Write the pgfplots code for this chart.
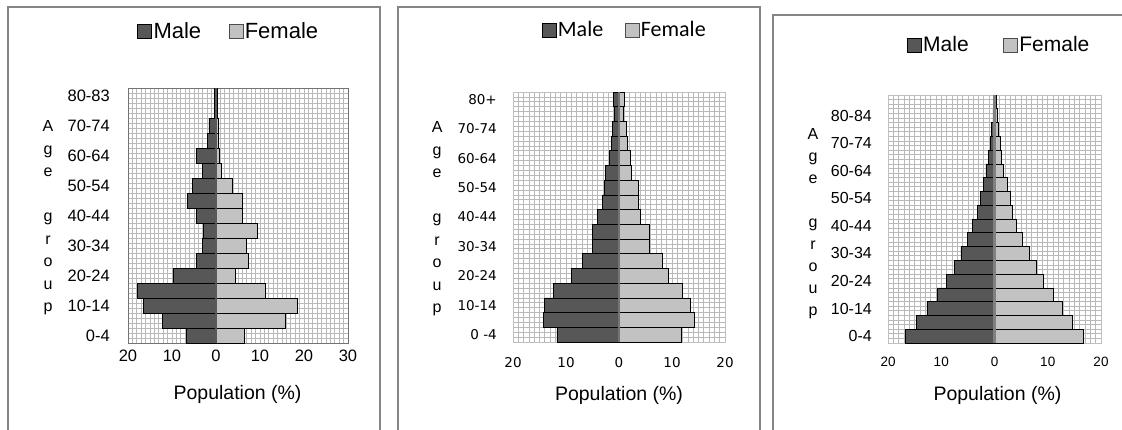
\documentclass[border=0pt]{standalone}
\usepackage{fontspec}
\setmainfont{Liberation Sans}
\newfontfamily\dejavu{DejaVu Sans}
\newfontfamily\carlito{Carlito}
\usepackage{pgfplots}
\usepackage{pgfplotstable}
\pgfplotsset{compat=1.18}
\definecolor{maleC}{HTML}{575757}
\definecolor{femC}{HTML}{C2C2C2}
\definecolor{gridC}{HTML}{B9B9B9}
\definecolor{frameC}{HTML}{858585}

% Panel 1
\pgfplotstableread{
y male female
0 6.7 6.5
1 12.2 15.8
2 16.5 18.5
3 17.8 11.3
4 9.8 4.3
5 4.5 7.3
6 3.0 7.0
7 2.8 9.4
8 4.5 6.1
9 6.4 6.1
10 5.3 3.8
11 3.1 1.3
12 4.5 0.8
13 1.9 0.5
14 1.6 0.5
15 0.4 0.2
16 0.3 0.3
}\tabA
% Panel 2
\pgfplotstableread{
y male female
0 11.7 11.8
1 14.3 14.2
2 14.1 13.5
3 12.3 11.9
4 9.0 9.4
5 6.9 8.1
6 5.0 5.8
7 5.0 5.8
8 4.1 4.0
9 3.2 3.6
10 2.8 3.7
11 2.6 2.4
12 1.8 2.1
13 1.4 1.5
14 1.3 1.3
15 0.8 0.9
16 1.0 1.1
}\tabB
% Panel 3
\pgfplotstableread{
y male female
0 16.8 16.6
1 14.6 14.6
2 12.7 12.75
3 10.8 11.0
4 9.1 9.1
5 7.6 7.9
6 6.3 6.6
7 5.1 5.2
8 4.1 4.1
9 3.25 3.4
10 2.6 2.9
11 2.1 2.4
12 1.6 1.75
13 1.1 1.25
14 0.75 1.1
15 0.5 0.7
16 0.3 0.5
17 0.2 0.3
}\tabC

\pgfplotsset{
  pyr/.style={
    scale only axis,
    ymin=-0.5,
    major tick length=0pt, minor tick length=0pt,
    xmajorgrids, xminorgrids, yminorgrids, ymajorgrids=false,
    minor xtick={-20,-19,...,30},
    grid style={gridC, line width=0.75pt},
    minor grid style={gridC, line width=0.75pt},
    major grid style={gridC, line width=0.75pt},
    ytick={0,2,...,16},
    xtick={-20,-10,0,10,20,30},
    xticklabels={20,10,0,10,20,30},
    legend style={draw=none, fill=none, anchor=center, legend columns=2, inner sep=0pt,
      nodes={inner sep=1.5pt}},
    ylabel style={rotate=-90, align=center, anchor=center},
    xlabel style={anchor=center, font=\fontsize{19.5}{20}\selectfont},
    yticklabel style={inner sep=0pt, anchor=east},
    xticklabel style={inner sep=0pt, anchor=north},
  },
  mbar/.style={xbar, bar width=1, bar shift=0pt, fill=maleC, draw=black, line width=0.7pt,
    legend image code/.code={\draw[fill=maleC, draw=black, line width=0.6pt] (0pt,-7pt) rectangle (14pt,7pt);}},
  fbar/.style={xbar, bar width=1, bar shift=0pt, fill=femC, draw=black, line width=0.7pt,
    legend image code/.code={\draw[fill=femC, draw=black!70, line width=0.6pt] (0pt,-7pt) rectangle (14pt,7pt);}},
}

\begin{document}
\begin{tikzpicture}
\useasboundingbox (0,0) rectangle (1122pt,429pt);
\fill[white] (0,0) rectangle (1122pt,429pt);
\draw[frameC, line width=2pt] (8pt,-5pt) -- (8pt,422pt) -- (380pt,422pt) -- (380pt,-5pt);
\draw[frameC, line width=2pt] (398pt,-5pt) -- (398pt,422pt) -- (760pt,422pt) -- (760pt,-5pt);
\draw[frameC, line width=2pt] (773pt,-5pt) -- (773pt,414pt) -- (1130pt,414pt);

% ---------- Panel 1 ----------
\begin{axis}[pyr,
  at={(128pt,86pt)}, anchor=south west,
  width=220pt, height=255pt,
  xmin=-20, xmax=30, ymax=16.5,
  minor ytick={-0.5,-0.16667,...,16.5},
  axis line style={draw=black!55, line width=0.8pt},
  yticklabels={0-4,10-14,20-24,30-34,40-44,50-54,60-64,70-74,80-83},
  tick label style={font=\fontsize{16.5}{16.5}\selectfont},
  yticklabel style={xshift=-18pt},
  xticklabel style={yshift=-7pt},
  xlabel={Population (\%)},
  xlabel style={at={(axis description cs:0.498,-0.2)}},
  ylabel={A\\g\\e\\\mbox{}\\g\\r\\o\\u\\p},
  ylabel style={font=\fontsize{16}{22.5}\selectfont, at={(axis description cs:-0.3636,0.49)}},
  legend style={at={(0.457,1.2235)}, font=\fontsize{22}{22}\selectfont,
    /tikz/every even column/.append style={column sep=26pt}},
]
\addplot[mbar] table[x expr=-\thisrow{male}, y=y] {\tabA};
\addlegendentry{Male}
\addplot[fbar] table[x=female, y=y] {\tabA};
\addlegendentry{Female}
\addplot[black!65, line width=2.5pt, forget plot] coordinates {(0,-0.5) (0,16.5)};
\end{axis}

% ---------- Panel 2 ----------
\begin{axis}[pyr,
  at={(513pt,87pt)}, anchor=south west,
  width=212pt, height=250pt,
  xmin=-20, xmax=20, ymax=16.5,
  xtick={-20,-10,0,10,20}, xticklabels={20,10,0,10,20},
  minor ytick={-0.5,-0.16667,...,16.5},
  axis line style={draw=black!25, line width=0.8pt},
  yticklabels={0 -4,10-14,20-24,30-34,40-44,50-54,60-64,70-74,80+},
  tick label style={font=\dejavu\fontsize{13.5}{13.5}\selectfont},
  yticklabel style={xshift=-16pt},
  xticklabel style={yshift=-15pt},
  xlabel={Population (\%)},
  xlabel style={at={(axis description cs:0.5,-0.212)}},
  ylabel={A\\g\\e\\\mbox{}\\g\\r\\o\\u\\p},
  ylabel style={font=\fontsize{16}{22.5}\selectfont, at={(axis description cs:-0.358,0.492)}},
  legend style={at={(0.526,1.248)}, font=\carlito\fontsize{22}{22}\selectfont,
    /tikz/every even column/.append style={column sep=20pt}},
]
\addplot[mbar] table[x expr=-\thisrow{male}, y=y] {\tabB};
\addlegendentry{Male}
\addplot[fbar] table[x=female, y=y] {\tabB};
\addlegendentry{Female}
\addplot[black!55, line width=1.2pt, forget plot] coordinates {(0,-0.5) (0,16.5)};
\end{axis}

% ---------- Panel 3 ----------
\begin{axis}[pyr,
  at={(888pt,86pt)}, anchor=south west,
  width=213pt, height=248pt,
  xmin=-20, xmax=20, ymax=17.5,
  xtick={-20,-10,0,10,20}, xticklabels={20,10,0,10,20},
  minor ytick={-0.5,-0.16667,...,17.5},
  axis line style={draw=black!25, line width=0.8pt},
  yticklabels={0-4,10-14,20-24,30-34,40-44,50-54,60-64,70-74,80-84},
  yticklabel style={font=\fontsize{16}{16}\selectfont, xshift=-16pt},
  xticklabel style={font=\fontsize{13.5}{13.5}\selectfont, yshift=-14pt},
  xlabel={Population (\%)},
  xlabel style={at={(axis description cs:0.514,-0.21)}},
  ylabel={A\\g\\e\\\mbox{}\\g\\r\\o\\u\\p},
  ylabel style={font=\fontsize{16}{22}\selectfont, at={(axis description cs:-0.352,0.482)}},
  legend style={at={(0.521,1.2016)}, font=\fontsize{21}{21}\selectfont,
    /tikz/every even column/.append style={column sep=33pt}},
]
\addplot[mbar] table[x expr=-\thisrow{male}, y=y] {\tabC};
\addlegendentry{Male}
\addplot[fbar] table[x=female, y=y] {\tabC};
\addlegendentry{Female}
\addplot[black!50, line width=3.5pt, forget plot] coordinates {(0,-0.5) (0,17.5)};
\end{axis}
\end{tikzpicture}
\end{document}
